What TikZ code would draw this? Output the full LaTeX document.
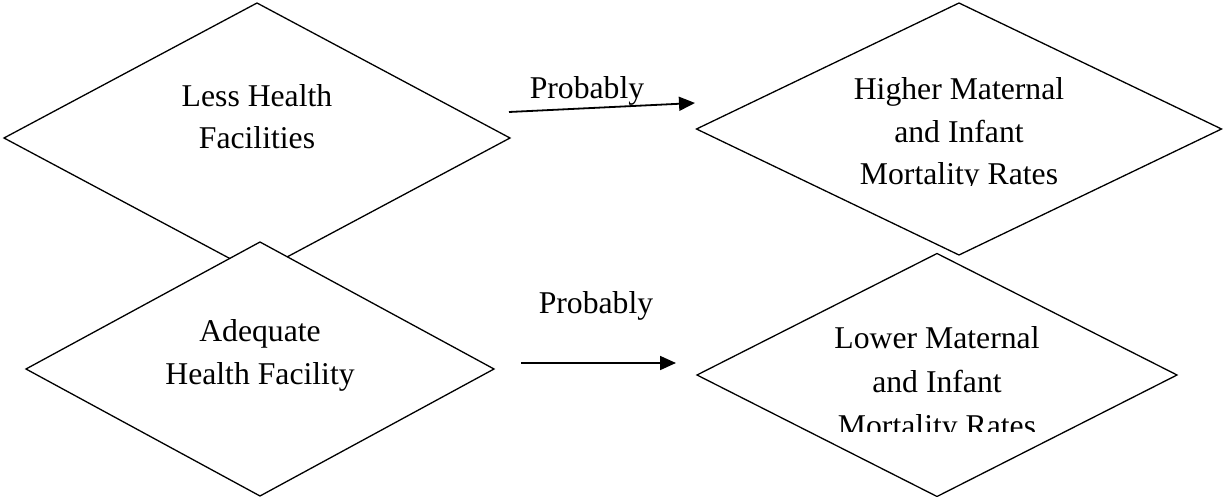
\documentclass[tikz,border=0pt]{standalone}
\usepackage{fontspec}
\setmainfont{Liberation Serif}
\usetikzlibrary{shapes.geometric,arrows.meta}

\tikzset{
  box/.style={diamond, draw=black, fill=white, line width=1.3pt,
    inner sep=0pt, outer sep=0pt},
  lbl/.style={anchor=base, inner sep=0pt, outer sep=0pt,
    font=\fontsize{31.7}{43}\selectfont},
  link/.style={line width=1.8pt, -{Triangle[length=16pt,width=14pt]}}
}

\begin{document}
\begin{tikzpicture}[x=1pt, y=-1pt]
\useasboundingbox (0,0) rectangle (1223,497);

% causes
\node[box, minimum width=506pt, minimum height=270pt] (less) at (257,138) {};
\node[box, minimum width=468pt, minimum height=254pt] (adequate) at (260,369) {};
% outcomes
\node[box, minimum width=525pt, minimum height=252pt] (higher) at (959,129) {};
\node[box, minimum width=480pt, minimum height=243pt] (lower) at (937,375) {};

% cause labels
\node[lbl] (less1) at (257,107) {Less Health};
\node[lbl] (less2) at (257,149) {Facilities};
\node[lbl] (adeq1) at (260,341) {Adequate};
\node[lbl] (adeq2) at (260,384) {Health Facility};

% outcome labels, cut off at the bottom of their text frames
\begin{scope}
  \clip (780,60) rectangle (1140,186);
  \node[lbl] (high1) at (959,100) {Higher Maternal};
  \node[lbl] (high2) at (959,143) {and Infant};
  \node[lbl] (high3) at (959,185) {Mortality Rates};
\end{scope}
\begin{scope}
  \clip (760,300) rectangle (1120,431);
  \node[lbl] (low1) at (937,348) {Lower Maternal};
  \node[lbl] (low2) at (937,392) {and Infant};
  \node[lbl] (low3) at (937,436) {Mortality Rates};
\end{scope}

% connectors
\coordinate (a1s) at (509,112);
\coordinate (a1e) at (695,103);
\coordinate (a2s) at (521,363);
\coordinate (a2e) at (676,363);
\draw[link] (a1s) -- (a1e);
\draw[link] (a2s) -- (a2e);
\node[lbl] (prob1) at (587,99) {Probably};
\node[lbl] (prob2) at (596,313) {Probably};
\end{tikzpicture}
\end{document}
